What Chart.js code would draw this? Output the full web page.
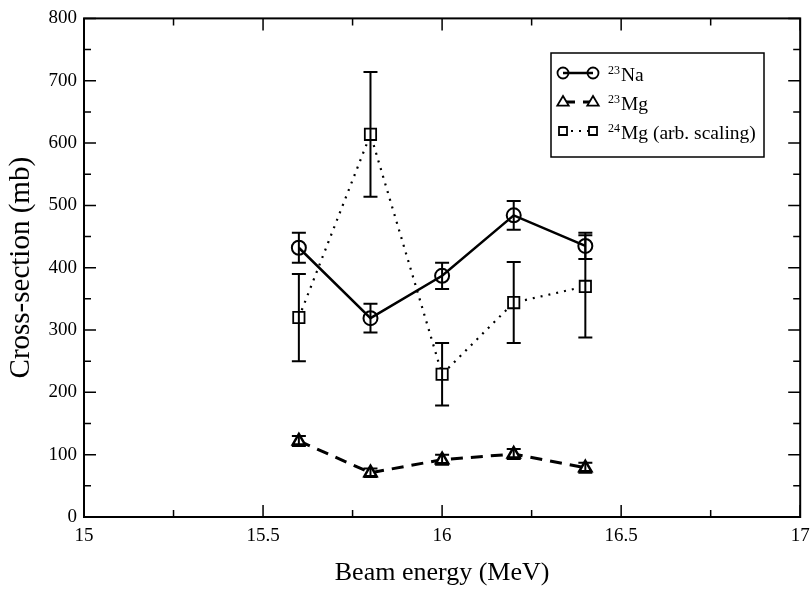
<!DOCTYPE html>
<html>
<head>
<meta charset="utf-8">
<script src="https://cdn.jsdelivr.net/npm/chart.js@4/dist/chart.umd.min.js"></script>
<style>
  html, body { margin: 0; padding: 0; background: #fff; }
  #wrap { width: 810px; height: 589px; }
</style>
</head>
<body>
<div id="wrap"><canvas id="chart" width="810" height="589"></canvas></div>
<script>
// beam energies (MeV) and cross-sections (mb)
const energies = [15.6, 15.8, 16.0, 16.2, 16.4];
const na23 = [432, 319, 387, 484, 435];
const na23Err = [24, 23, 21, 23, 21];
const mg23 = [122, 71, 92, 101, 79];
const mg23Err = [8, 7, 8, 8, 8];
const mg24 = [320, 614, 229, 344, 370];
const mg24Err = [70, 100, 50, 65, 82];

const xTicks = [15, 15.5, 16, 16.5, 17];
const yTicks = [0, 100, 200, 300, 400, 500, 600, 700, 800];
const massNumbers = ['23', '23', '24'];
const seriesNames = ['Na', 'Mg', 'Mg (arb. scaling)'];

const SERIF = '"Liberation Serif", "DejaVu Serif", serif';

function points(ys) {
    return energies.map((x, i) => ({ x: x, y: ys[i] }));
}

function drawMarker(ctx, style, r, x, y, lw) {
    ctx.save();
    ctx.setLineDash([]);
    ctx.lineWidth = lw;
    ctx.strokeStyle = '#000';
    ctx.fillStyle = '#fff';
    ctx.beginPath();
    if (style === 'circle') {
        ctx.arc(x, y, r, 0, Math.PI * 2);
        ctx.stroke();
    } else if (style === 'triangle') {
        ctx.moveTo(x, y - r);
        ctx.lineTo(x + r * 0.95, y + r * 0.6);
        ctx.lineTo(x - r * 0.95, y + r * 0.6);
        ctx.closePath();
        ctx.fill();
        ctx.stroke();
    } else {
        ctx.rect(x - r, y - r, r * 2, r * 2);
        ctx.fill();
        ctx.stroke();
    }
    ctx.restore();
}

// error bars through the scales
const errorBars = {
    id: 'errorBars',
    afterDatasetsDraw(chart) {
        const ctx = chart.ctx;
        const xs = chart.scales.x, ys = chart.scales.y;
        chart.data.datasets.forEach(ds => {
            ctx.save();
            ctx.strokeStyle = '#000';
            ctx.lineWidth = 2;
            ds.data.forEach((p, i) => {
                const e = ds.errors[i];
                const px = xs.getPixelForValue(p.x);
                const top = ys.getPixelForValue(p.y + e);
                const bot = ys.getPixelForValue(p.y - e);
                ctx.beginPath();
                ctx.moveTo(px, top); ctx.lineTo(px, bot);
                ctx.moveTo(px - 7, top); ctx.lineTo(px + 7, top);
                ctx.moveTo(px - 7, bot); ctx.lineTo(px + 7, bot);
                ctx.stroke();
            });
            ctx.restore();
        });
    }
};

// box frame with inward ticks on all four sides
const frame = {
    id: 'frame',
    afterDraw(chart) {
        const ctx = chart.ctx;
        const a = chart.chartArea;
        const xs = chart.scales.x, ys = chart.scales.y;
        ctx.save();
        ctx.strokeStyle = '#000';
        ctx.lineWidth = 2;
        ctx.strokeRect(a.left, a.top, a.right - a.left, a.bottom - a.top);
        ctx.lineWidth = 1.5;
        ctx.beginPath();
        for (let v = 15; v <= 17.001; v += 0.25) {
            const px = xs.getPixelForValue(v);
            const len = Math.abs(v * 2 - Math.round(v * 2)) < 1e-6 ? 12 : 7;
            ctx.moveTo(px, a.bottom); ctx.lineTo(px, a.bottom - len);
            ctx.moveTo(px, a.top); ctx.lineTo(px, a.top + len);
        }
        for (let v = 0; v <= 800; v += 50) {
            const py = ys.getPixelForValue(v);
            const len = v % 100 === 0 ? 12 : 7;
            ctx.moveTo(a.left, py); ctx.lineTo(a.left + len, py);
            ctx.moveTo(a.right, py); ctx.lineTo(a.right - len, py);
        }
        ctx.stroke();
        ctx.restore();
    }
};

// boxed legend inside the plot, labels with superscript mass numbers
const boxLegend = {
    id: 'boxLegend',
    afterDraw(chart) {
        const ctx = chart.ctx;
        const bx = 551, by = 53, bw = 213, bh = 104;
        ctx.save();
        ctx.fillStyle = '#fff';
        ctx.fillRect(bx, by, bw, bh);
        ctx.strokeStyle = '#000';
        ctx.lineWidth = 1.5;
        ctx.strokeRect(bx, by, bw, bh);
        chart.data.datasets.forEach((ds, i) => {
            const y = by + 20 + i * 29;
            const x1 = bx + 12, x2 = bx + 42;
            ctx.save();
            ctx.strokeStyle = '#000';
            ctx.lineWidth = ds.borderWidth;
            ctx.setLineDash(ds.borderDash || []);
            ctx.beginPath();
            ctx.moveTo(x1, y); ctx.lineTo(x2, y);
            ctx.stroke();
            ctx.restore();
            const r = ds.pointStyle === 'circle' ? 5.5 : (ds.pointStyle === 'triangle' ? 6 : 4);
            drawMarker(ctx, ds.pointStyle, r, x1, y, 1.8);
            drawMarker(ctx, ds.pointStyle, r, x2, y, 1.8);
            ctx.fillStyle = '#000';
            ctx.textBaseline = 'alphabetic';
            ctx.font = '12px ' + SERIF;
            ctx.fillText(massNumbers[i], bx + 57, y + 1);
            const w = ctx.measureText(massNumbers[i]).width;
            ctx.font = '19.5px ' + SERIF;
            ctx.fillText(seriesNames[i], bx + 58 + w, y + 8);
        });
        ctx.restore();
    }
};

const ctx = document.getElementById('chart');
new Chart(ctx, {
    type: 'scatter',
    data: {
        datasets: [
            {
                label: '23Na',
                data: points(na23),
                errors: na23Err,
                showLine: true,
                borderColor: '#000',
                borderWidth: 2.5,
                pointStyle: 'circle',
                pointRadius: 7,
                pointBorderWidth: 2,
                pointBackgroundColor: 'rgba(0,0,0,0)',
                pointBorderColor: '#000'
            },
            {
                label: '23Mg',
                data: points(mg23),
                errors: mg23Err,
                showLine: true,
                borderColor: '#000',
                borderWidth: 3,
                borderDash: [12, 8],
                pointStyle: 'triangle',
                pointRadius: 7,
                pointBorderWidth: 2.5,
                pointBackgroundColor: '#fff',
                pointBorderColor: '#000'
            },
            {
                label: '24Mg (arb. scaling)',
                data: points(mg24),
                errors: mg24Err,
                showLine: true,
                borderColor: '#000',
                borderWidth: 2.2,
                borderDash: [2, 6],
                pointStyle: 'rect',
                pointRadius: 8,
                pointBorderWidth: 1.8,
                pointBackgroundColor: '#fff',
                pointBorderColor: '#000'
            }
        ]
    },
    options: {
        responsive: false,
        animation: false,
        layout: { padding: { left: 0, right: 8, top: 17, bottom: 0 } },
        plugins: {
            legend: { display: false },
            tooltip: { enabled: false }
        },
        scales: {
            x: {
                type: 'linear',
                min: 15,
                max: 17,
                afterBuildTicks: scale => { scale.ticks = xTicks.map(v => ({ value: v })); },
                afterFit: scale => {
                    scale.height = 72;
                    scale.paddingRight = 0;
                    scale.paddingLeft = 0;
                },
                grid: { display: false, drawTicks: false },
                border: { display: false },
                ticks: {
                    padding: 8,
                    maxRotation: 0,
                    color: '#000',
                    font: { family: SERIF, size: 19 },
                    callback: v => String(v)
                },
                title: {
                    display: true,
                    text: 'Beam energy (MeV)',
                    color: '#000',
                    padding: { top: 0, bottom: 0 },
                    font: { family: SERIF, size: 26 }
                }
            },
            y: {
                min: 0,
                max: 800,
                afterBuildTicks: scale => { scale.ticks = yTicks.map(v => ({ value: v })); },
                afterFit: scale => { scale.width = 84; },
                grid: { display: false, drawTicks: false },
                border: { display: false },
                ticks: {
                    padding: 7,
                    color: '#000',
                    font: { family: SERIF, size: 19 },
                    callback: v => String(v)
                },
                title: {
                    display: true,
                    text: 'Cross-section (mb)',
                    color: '#000',
                    padding: { top: 4, bottom: 0 },
                    font: { family: SERIF, size: 29 }
                }
            }
        }
    },
    plugins: [errorBars, frame, boxLegend]
});
</script>
</body>
</html>
